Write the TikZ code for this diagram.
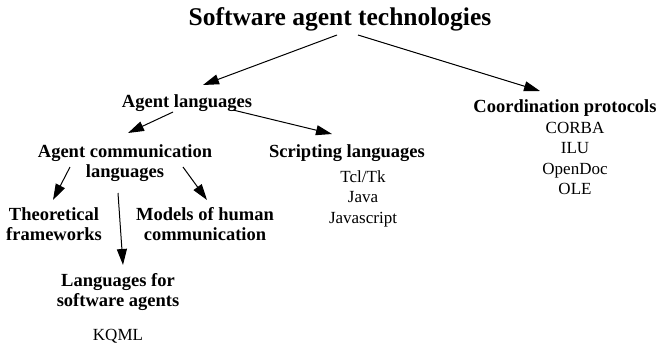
\documentclass[tikz,border=0pt]{standalone}
\usepackage{fontspec}
\setmainfont{Liberation Serif}
\usetikzlibrary{arrows.meta,calc}

\tikzset{
  every node/.style={inner sep=0pt, outer sep=0pt, anchor=base, align=center},
  titletext/.style={font=\fontsize{25.5}{28}\selectfont\bfseries},
  headtext/.style={font=\fontsize{18.5}{19.5}\selectfont\bfseries},
  itemtext/.style={font=\fontsize{17}{20.5}\selectfont},
  arr/.style={line width=1pt, -{Triangle[length=16pt,width=10pt]}}
}

\begin{document}
\begin{tikzpicture}[x=1pt,y=-1pt]
  \useasboundingbox (0,0) rectangle (663,346);

  % headings (multi-line nodes sit on the baseline of their last line)
  \node[titletext] (title)     at (340,25)  {Software agent technologies};
  \node[headtext]  (agentlang) at (187,107) {Agent languages};
  \node[headtext]  (coord)     at (565,112) {Coordination protocols};
  \node[headtext]  (acl)       at (125,177) {Agent communication\\languages};
  \node[headtext]  (script)    at (347,157) {Scripting languages};
  \node[headtext]  (theo)      at (54,240)  {Theoretical\\frameworks};
  \node[headtext]  (models)    at (205,240) {Models of human\\communication};
  \node[headtext]  (lsa)       at (118,306) {Languages for\\software agents};

  % examples
  \node[itemtext]  (coordlist)  at (575,194.5) {CORBA\\ILU\\OpenDoc\\OLE};
  \node[itemtext]  (scriptlist) at (363,223)   {Tcl/Tk\\Java\\Javascript};
  \node[itemtext]  (kqml)       at (118,340)   {KQML};

  % tree edges
  \draw[arr] ($(title.base)+(-3,10)$)      -- ($(agentlang.base)+(16,-22)$);
  \draw[arr] ($(title.base)+(18,10)$)      -- ($(coord.base)+(-25,-21)$);
  \draw[arr] ($(agentlang.base)+(-14,5)$)  -- ($(acl.base)+(3,-44)$);
  \draw[arr] ($(agentlang.base)+(46,3)$)   -- ($(script.base)+(-15,-23)$);
  \draw[arr] ($(acl.base)+(-55,-10)$)      -- ($(theo.base)+(-1,-40)$);
  \draw[arr] ($(acl.base)+(-7,16)$)        -- ($(lsa.base)+(5,-41)$);
  \draw[arr] ($(acl.base)+(58,-10)$)       -- ($(models.base)+(2,-40)$);
\end{tikzpicture}
\end{document}
